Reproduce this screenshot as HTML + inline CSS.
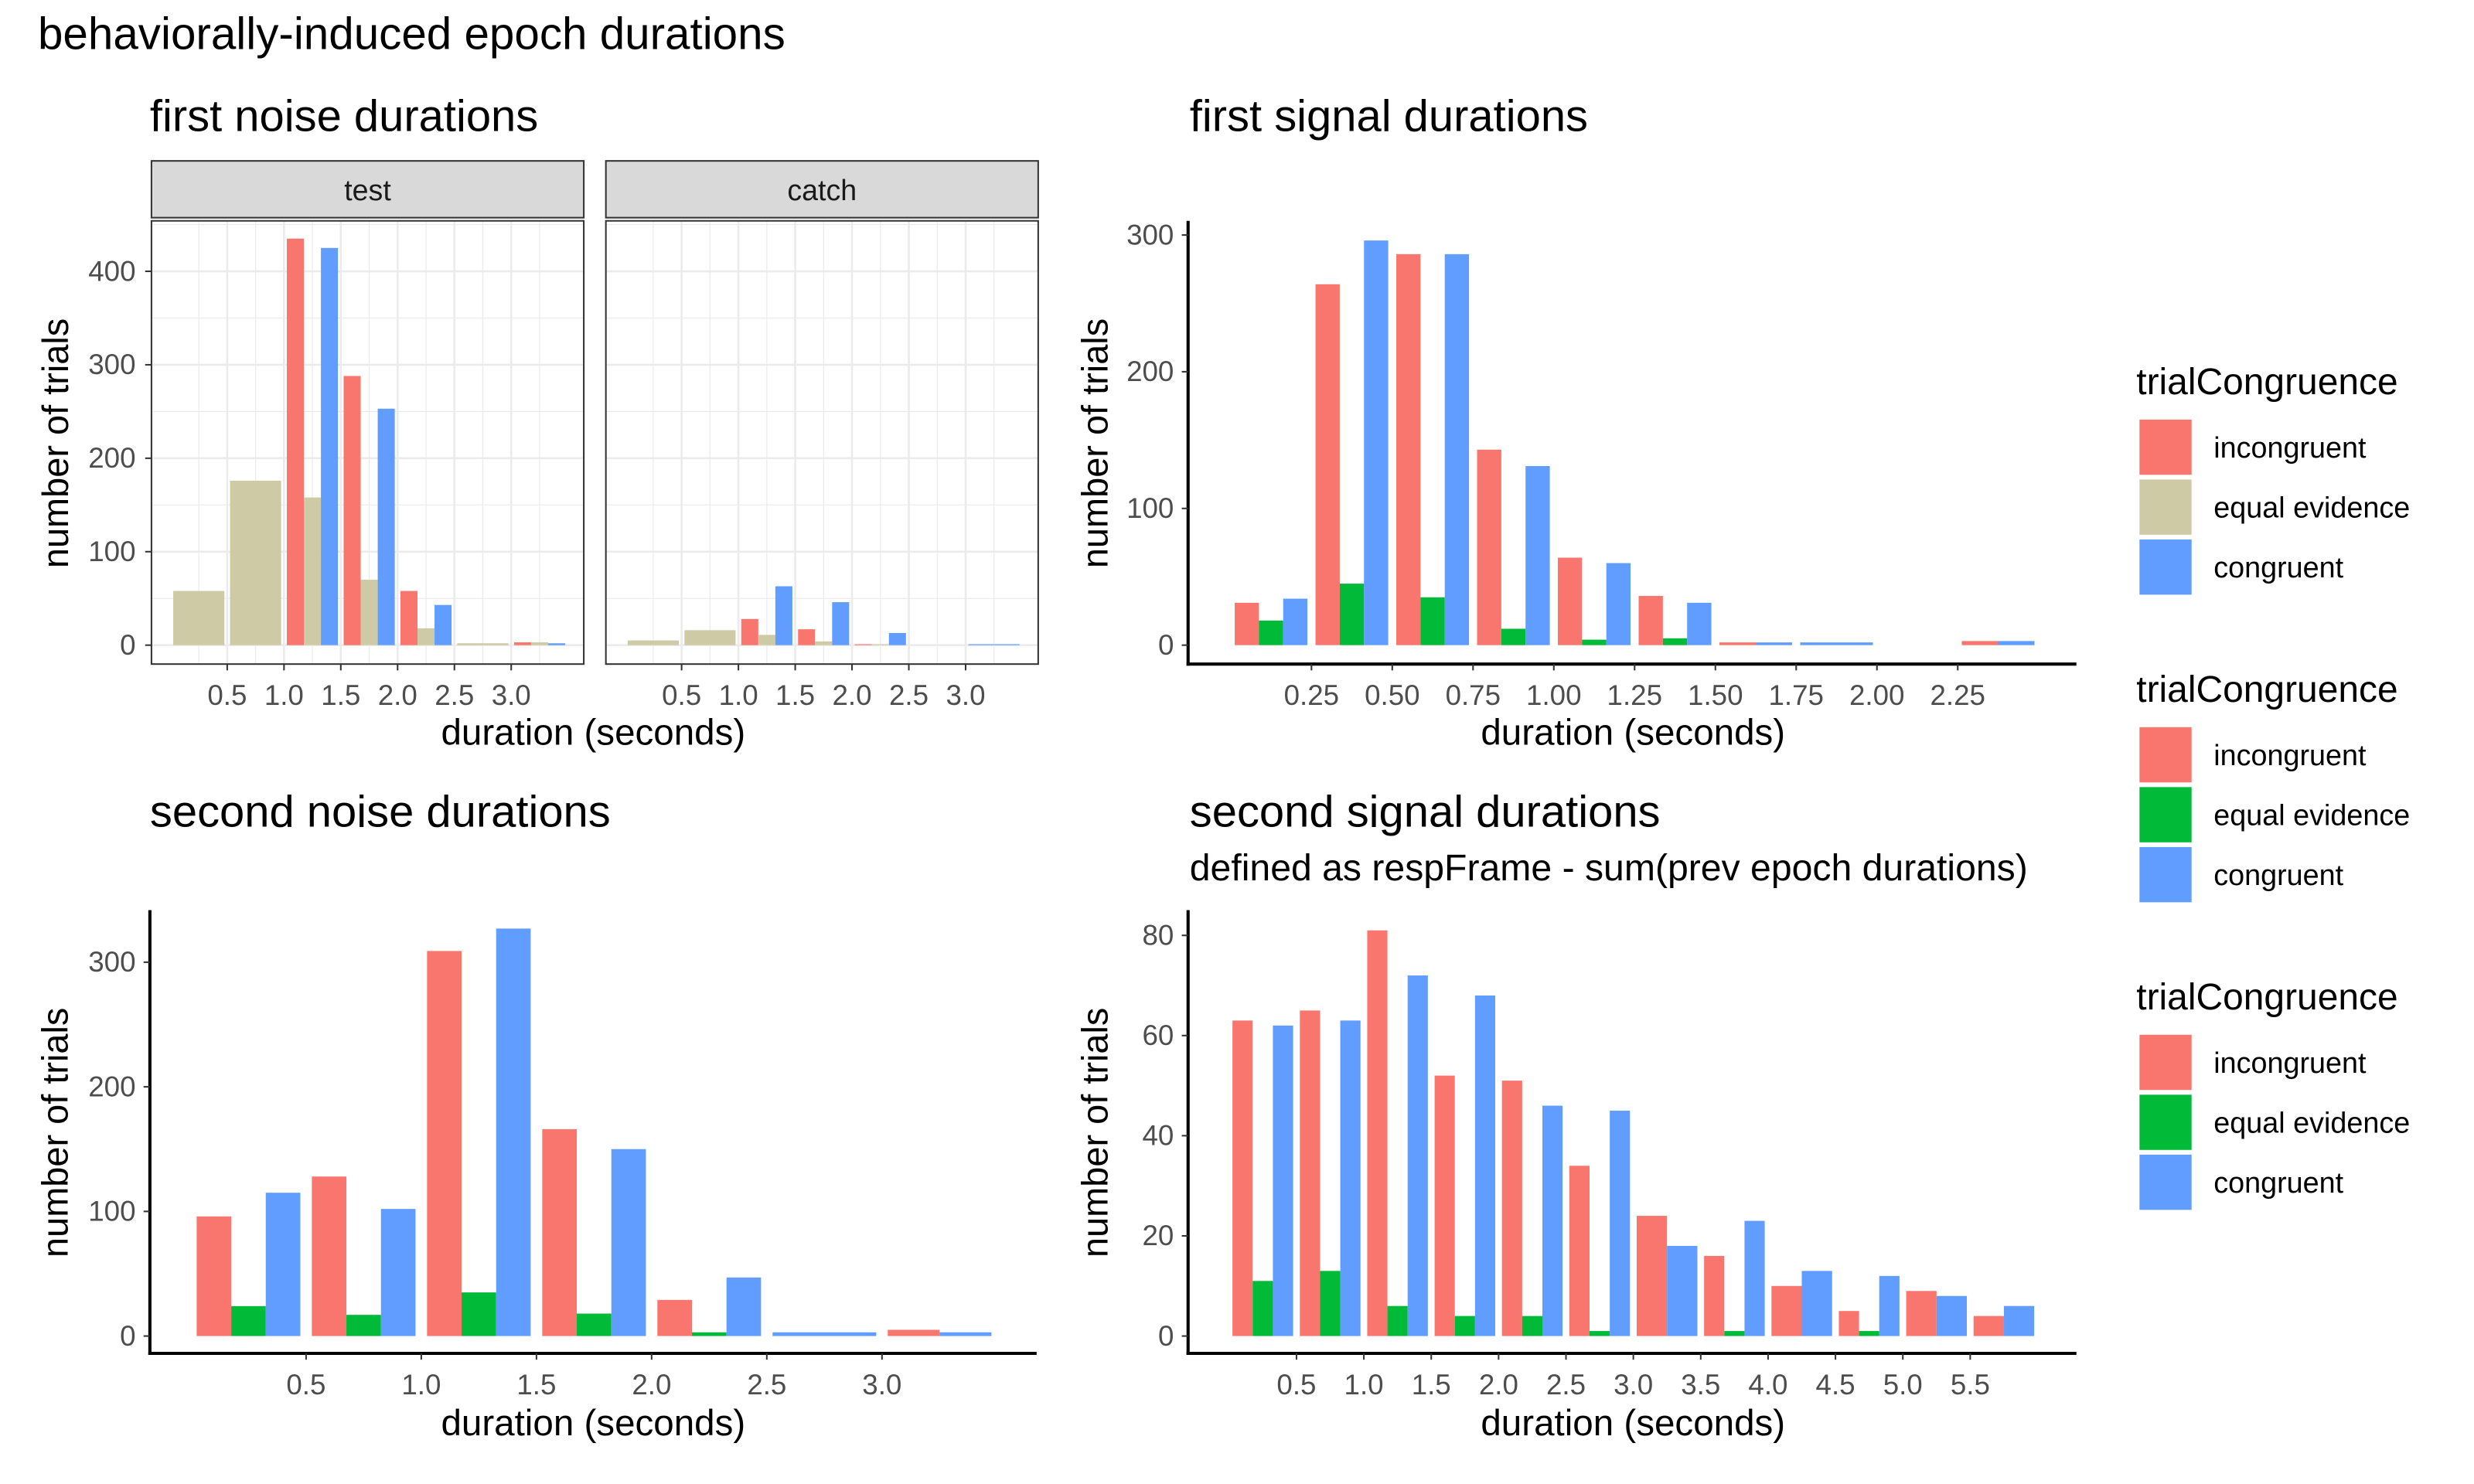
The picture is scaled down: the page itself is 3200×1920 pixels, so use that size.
<!DOCTYPE html>
<html><head><meta charset="utf-8"><style>
html,body{margin:0;padding:0;background:#fff;}
svg{display:block;font-family:"Liberation Sans",Arial,sans-serif;}
</style></head><body>
<svg id="fig" width="3200" height="1920" viewBox="0 0 1568 940.8" xmlns="http://www.w3.org/2000/svg">
<rect width="1568" height="941" fill="#fff"/>
<text x="24" y="31" font-size="28.6" fill="#000">behaviorally-induced epoch durations</text>
<text x="95" y="83" font-size="28.4">first noise durations</text>
<text x="754" y="83" font-size="28.4">first signal durations</text>
<text x="95" y="524" font-size="28.4">second noise durations</text>
<text x="754" y="524" font-size="28.4">second signal durations</text>
<text x="754" y="558" font-size="23.6">defined as respFrame - sum(prev epoch durations)</text>
<g id="g"></g>
</svg>
<script>
// ---- data ----
const groups = ["incongruent","equal evidence","congruent"];
// panel 1: first noise (bins of 0.5 s starting at 0)
const fnTestRed   = [null,null,435,288,58,null,3];
const fnTestTan   = [58,176,158,70,18,2,3];
const fnTestBlue  = [null,null,425,253,43,null,2];
const fnCatchRed  = [null,null,28,17,1,null,null];
const fnCatchTan  = [5,16,11,4,1,null,null];
const fnCatchBlue = [null,null,63,46,13,null,1];
// panel 2: first signal (bins of 0.25 s)
const fsRed   = [31,264,286,143,64,36,2,null,null,3];
const fsGreen = [18,45,35,12,4,5,null,null,null,null];
const fsBlue  = [34,296,286,131,60,31,2,2,null,3];
// panel 3: second noise (bins of 0.5 s)
const snRed   = [96,128,309,166,29,null,5];
const snGreen = [24,17,35,18,3,null,null];
const snBlue  = [115,102,327,150,47,3,3];
// panel 4: second signal (bins of 0.5 s)
const ssRed   = [63,65,81,52,51,34,24,16,10,5,9,4];
const ssGreen = [11,13,6,4,4,1,null,1,null,1,null,null];
const ssBlue  = [62,63,72,68,46,45,18,23,13,12,8,6];
// ticks
const p1XTicks = [0.5,1.0,1.5,2.0,2.5,3.0];
const p1YTicks = [0,100,200,300,400];
const p2XTicks = [0.25,0.5,0.75,1.0,1.25,1.5,1.75,2.0,2.25];
const p2YTicks = [0,100,200,300];
const p3XTicks = [0.5,1.0,1.5,2.0,2.5,3.0];
const p3YTicks = [0,100,200,300];
const p4XTicks = [0.5,1.0,1.5,2.0,2.5,3.0,3.5,4.0,4.5,5.0,5.5];
const p4YTicks = [0,20,40,60,80];

const RED="#F8766D", TAN="#CECAA6", GREEN="#00BA38", BLUE="#619CFF";
const TICK=18;
const NS="http://www.w3.org/2000/svg";
const root=document.getElementById('g');
function mk(tag,attrs,parent){const e=document.createElementNS(NS,tag);for(const k in attrs)e.setAttribute(k,attrs[k]);(parent||root).appendChild(e);return e;}
function txt(s,attrs){const e=mk('text',attrs);e.textContent=s;return e;}

function drawBars(series,colors,binW,x0,xs,ys,name){
  const n=series[0].length;
  for(let i=0;i<n;i++){
    const present=[];
    series.forEach((s,j)=>{if(s[i]!==null&&s[i]!==undefined)present.push(j);});
    const left=xs(x0+i*binW+binW*0.05), right=xs(x0+(i+1)*binW-binW*0.05);
    const w=(right-left)/present.length;
    present.forEach((j,k)=>{
      const v=series[j][i];
      const r=mk('rect',{x:left+k*w,y:ys(v),width:w,height:ys(0)-ys(v),fill:colors[j]});
      
      
    });
  }
}
function fmt(v,d){return v.toFixed(d);}

// ---------- panel 1 ----------
const p1Top=140, p1Bot=421;
const ys1=v=>409-v*0.5925;
function facet(px0,px1,label,red,tan,blue,name){
  const xs=v=>px0+12+v*72;
  const s=mk('rect',{x:px0,y:102,width:px1-px0,height:36,fill:'#D9D9D9',stroke:'#333','stroke-width':1});
  
  
  const st=txt(label,{x:(px0+px1)/2,y:127,'font-size':18.4,'text-anchor':'middle',fill:'#1A1A1A'});
  
  
  mk('rect',{x:px0,y:p1Top,width:px1-px0,height:p1Bot-p1Top,fill:'#fff'});
  for(let v=50;v<=450;v+=100)mk('line',{x1:px0,x2:px1,y1:ys1(v),y2:ys1(v),stroke:'#EBEBEB','stroke-width':0.6});
  p1YTicks.forEach(v=>mk('line',{x1:px0,x2:px1,y1:ys1(v),y2:ys1(v),stroke:'#EBEBEB','stroke-width':1.3}));
  for(let v=0.25;v<3.8;v+=0.5){if(xs(v)>px0&&xs(v)<px1)mk('line',{x1:xs(v),x2:xs(v),y1:p1Top,y2:p1Bot,stroke:'#EBEBEB','stroke-width':0.6});}
  p1XTicks.forEach(v=>mk('line',{x1:xs(v),x2:xs(v),y1:p1Top,y2:p1Bot,stroke:'#EBEBEB','stroke-width':1.3}));
  drawBars([red,tan,blue],[RED,TAN,BLUE],0.5,0,xs,ys1,name);
  mk('rect',{x:px0,y:p1Top,width:px1-px0,height:p1Bot-p1Top,fill:'none',stroke:'#333','stroke-width':1});
  p1XTicks.forEach(v=>{
    mk('line',{x1:xs(v),x2:xs(v),y1:p1Bot,y2:p1Bot+4,stroke:'#333','stroke-width':1});
    const t=txt(fmt(v,1),{x:xs(v),y:p1Bot+26,'font-size':TICK,'text-anchor':'middle',fill:'#4D4D4D'});
    
    
  });
}
facet(96,370,'test',fnTestRed,fnTestTan,fnTestBlue,'first-noise-test');
facet(384,658,'catch',fnCatchRed,fnCatchTan,fnCatchBlue,'first-noise-catch');
p1YTicks.forEach(v=>{
  mk('line',{x1:92,x2:96,y1:ys1(v),y2:ys1(v),stroke:'#333','stroke-width':1});
  const t=txt(String(v),{x:86,y:ys1(v)+6,'font-size':TICK,'text-anchor':'end',fill:'#4D4D4D'});
  
  
});

// ---------- classic axes helper ----------
function classic(cfg){
  const {x0,x1,yTop,yAxis,xs,ys,xTicks,yTicks,dec,name,series,binW}=cfg;
  drawBars(series,[RED,GREEN,BLUE],binW,0,xs,ys,name);
  mk('line',{x1:x0,x2:x0,y1:yTop,y2:yAxis+1,stroke:'#000','stroke-width':2});
  mk('line',{x1:x0-1,x2:x1,y1:yAxis,y2:yAxis,stroke:'#000','stroke-width':2});
  yTicks.forEach(v=>{
    mk('line',{x1:x0-4,x2:x0,y1:ys(v),y2:ys(v),stroke:'#333','stroke-width':1});
    const t=txt(String(v),{x:x0-9,y:ys(v)+6,'font-size':TICK,'text-anchor':'end',fill:'#4D4D4D'});
    
    
  });
  xTicks.forEach(v=>{
    mk('line',{x1:xs(v),x2:xs(v),y1:yAxis,y2:yAxis+4,stroke:'#333','stroke-width':1});
    const t=txt(fmt(v,dec),{x:xs(v),y:yAxis+26,'font-size':TICK,'text-anchor':'middle',fill:'#4D4D4D'});
    
    
  });
}
classic({x0:753,x1:1316,yTop:140,yAxis:421,xs:v=>780+v*204.8,ys:v=>409-v*0.8667,xTicks:p2XTicks,yTicks:p2YTicks,dec:2,name:'first-signal',series:[fsRed,fsGreen,fsBlue],binW:0.25});
classic({x0:95,x1:657,yTop:577,yAxis:858,xs:v=>121+v*146,ys:v=>847-v*0.79,xTicks:p3XTicks,yTicks:p3YTicks,dec:1,name:'second-noise',series:[snRed,snGreen,snBlue],binW:0.5});
classic({x0:753,x1:1316,yTop:577,yAxis:858,xs:v=>779+v*85.4,ys:v=>847-v*3.175,xTicks:p4XTicks,yTicks:p4YTicks,dec:1,name:'second-signal',series:[ssRed,ssGreen,ssBlue],binW:0.5});

// axis titles
[[376,472,'first-noise'],[1035,472,'first-signal'],[376,910,'second-noise'],[1035,910,'second-signal']].forEach(a=>{
  const t=txt('duration (seconds)',{x:a[0],y:a[1],'font-size':23.3,'text-anchor':'middle'});
  
  
});
[[43,281,'first-noise'],[702,281,'first-signal'],[43,718,'second-noise'],[702,718,'second-signal']].forEach(a=>{
  const t=txt('number of trials',{x:a[0],y:a[1],'font-size':23,'text-anchor':'middle',transform:'rotate(-90 '+a[0]+' '+a[1]+')'});
  
  
});

// legends
function legend(y0,mid,n){
  const t=txt('trialCongruence',{x:1354,y:y0,'font-size':23.5});
  
  
  [RED,mid,BLUE].forEach((c,i)=>{
    const yy=y0+16+i*38;
    const r=mk('rect',{x:1356,y:yy,width:33,height:35,fill:c});
    
    
    const l=txt(groups[i],{x:1403,y:yy+24,'font-size':18.5});
    
    
  });
}
legend(250,TAN,1);
legend(445,GREEN,2);
legend(640,GREEN,3);
</script>
</body></html>
